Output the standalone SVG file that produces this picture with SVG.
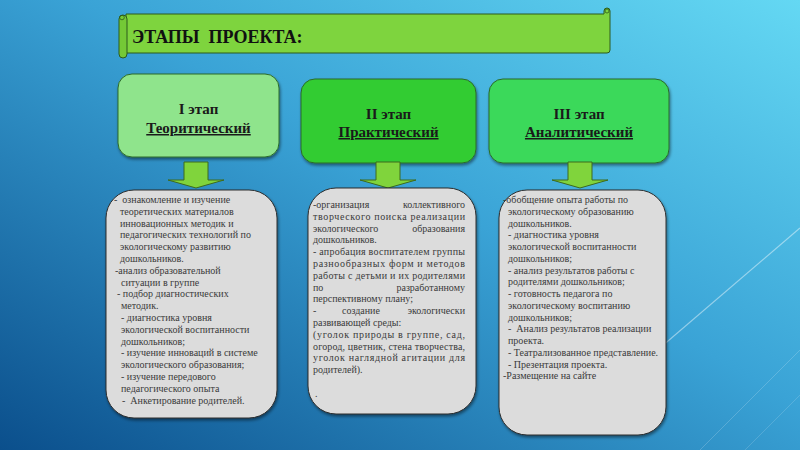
<svg xmlns="http://www.w3.org/2000/svg" width="800" height="450" viewBox="0 0 800 450">
<defs>
<linearGradient id="bg" x1="1" y1="0" x2="0" y2="1">
<stop offset="0" stop-color="#64d8f3"/>
<stop offset="0.45" stop-color="#3aa3d6"/>
<stop offset="1" stop-color="#0b4f8c"/>
</linearGradient>
<filter id="sh" x="-10%" y="-10%" width="120%" height="120%">
<feDropShadow dx="1" dy="2" stdDeviation="1.5" flood-color="#000" flood-opacity="0.45"/>
</filter>
</defs>
<style>
.hdr{stroke:#2c6a2c;stroke-width:1;filter:url(#sh)}
.ht{font-family:"Liberation Serif",serif;font-weight:bold;font-size:15px;fill:#1a1a1a;text-anchor:middle}
.u{text-decoration:underline}
.box{fill:#dcdcdc;stroke:#2e2e2e;stroke-width:1;filter:url(#sh)}
.t{font-family:"Liberation Serif",serif;font-size:10px;fill:#3a3a3a;white-space:pre}
.e{text-anchor:end}
.arr{fill:#80d43c;stroke:#3d6a1c;stroke-width:1}
.deco{stroke:#ffffff;fill:none}
</style>
<rect x="0" y="0" width="800" height="450" fill="url(#bg)"/>
<g id="decor">
<line class="deco" x1="640" y1="365" x2="800" y2="228" stroke-opacity="0.45" stroke-width="1.2"/>
<line class="deco" x1="700" y1="450" x2="800" y2="350" stroke-opacity="0.18"/>
<line class="deco" x1="745" y1="450" x2="800" y2="395" stroke-opacity="0.15"/>
</g>
<g id="banner">
<path d="M126,14 H604 V11 a3,3 0 0 1 6,0 V50 a3,3 0 0 1 -3,3 H126 Z" fill="#7ed43e" stroke="#2d5a1c" stroke-width="1"/>
<rect x="119" y="15" width="8" height="43" rx="4" fill="#74c936" stroke="#2d5a1c" stroke-width="1"/>
<circle cx="122" cy="17.5" r="2.3" fill="none" stroke="#2d5a1c" stroke-width="0.8"/>
<circle cx="607" cy="11" r="2" fill="none" stroke="#2d5a1c" stroke-width="0.8"/>
<text x="132" y="43" font-family="Liberation Serif, serif" font-weight="bold" font-size="18" fill="#111" style="white-space:pre">ЭТАПЫ  ПРОЕКТА:</text>
</g>
<g id="stage1">
<rect class="hdr" x="118" y="74" width="161" height="83" rx="14" fill="#8fe48c"/>
<text class="ht" x="198.5" y="114">I этап</text>
<text class="ht u" x="198.5" y="133">Теоритический</text>
</g>
<g id="stage2">
<rect class="hdr" x="301" y="79" width="175" height="84" rx="14" fill="#33cc33"/>
<text class="ht" x="388.5" y="119">II этап</text>
<text class="ht u" x="388.5" y="137">Практический</text>
</g>
<g id="stage3">
<rect class="hdr" x="489" y="79" width="180" height="84" rx="14" fill="#3bd95a"/>
<text class="ht" x="579" y="119">III этап</text>
<text class="ht u" x="579" y="137">Аналитический</text>
</g>
<g id="connectors">
<polygon class="arr" points="184,162 208,162 208,180 224,180 196,188 168,180 184,180"/>
<polygon class="arr" points="376,162 400,162 400,180 416,180 388,188 360,180 376,180"/>
<polygon class="arr" points="568,162 592,162 592,180 608,180 580,188 552,180 568,180"/>
</g>
<g id="box1">
<rect class="box" x="106" y="190" width="171" height="228" rx="28"/>
<text class="t" x="114" y="203">-  ознакомление и изучение</text>
<text class="t" x="120" y="214.8">теоретических материалов</text>
<text class="t" x="120" y="226.6">инновационных методик и</text>
<text class="t" x="120" y="238.4">педагогических технологий по</text>
<text class="t" x="120" y="250.2">экологическому развитию</text>
<text class="t" x="120" y="262">дошкольников.</text>
<text class="t" x="115" y="273.8">-анализ образовательной</text>
<text class="t" x="121" y="285.6">ситуации в группе</text>
<text class="t" x="117" y="297.4">- подбор диагностических</text>
<text class="t" x="121" y="309.2">методик.</text>
<text class="t" x="121" y="321">- диагностика уровня</text>
<text class="t" x="121" y="332.8">экологической воспитанности</text>
<text class="t" x="121" y="344.6">дошкольников;</text>
<text class="t" x="121" y="356.4">- изучение инноваций в системе</text>
<text class="t" x="121" y="368.2">экологического образования;</text>
<text class="t" x="121" y="380">- изучение передового</text>
<text class="t" x="121" y="391.8">педагогического опыта</text>
<text class="t" x="122" y="403.6">-  Анкетирование родителей.</text>
</g>
<g id="box2">
<rect class="box" x="308" y="188" width="168" height="226" rx="28"/>
<text class="t" x="313" y="208">-организация</text>
<text class="t e" x="465" y="208">коллективного</text>
<text class="t" x="313" y="219.8" textLength="152" lengthAdjust="spacing">творческого поиска реализации</text>
<text class="t" x="313" y="231.6">экологического</text>
<text class="t e" x="465" y="231.6">образования</text>
<text class="t" x="313" y="243.4">дошкольников.</text>
<text class="t" x="313" y="255.2" textLength="152" lengthAdjust="spacing">- апробация воспитателем группы</text>
<text class="t" x="313" y="267" textLength="152" lengthAdjust="spacing">разнообразных форм и методов</text>
<text class="t" x="313" y="278.8" textLength="152" lengthAdjust="spacing">работы с детьми и их родителями</text>
<text class="t" x="313" y="290.6">по</text>
<text class="t e" x="465" y="290.6">разработанному</text>
<text class="t" x="313" y="302.4">перспективному плану;</text>
<text class="t" x="313" y="314.2">-</text>
<text class="t" x="342" y="314.2">создание</text>
<text class="t e" x="465" y="314.2">экологически</text>
<text class="t" x="313" y="326">развивающей среды:</text>
<text class="t" x="313" y="337.8" textLength="152" lengthAdjust="spacing">(уголок природы в группе, сад,</text>
<text class="t" x="313" y="349.6" textLength="152" lengthAdjust="spacing">огород, цветник, стена творчества,</text>
<text class="t" x="313" y="361.4" textLength="152" lengthAdjust="spacing">уголок наглядной агитации для</text>
<text class="t" x="313" y="373.2">родителей).</text>
<text class="t" x="315" y="397">.</text>
</g>
<g id="box3">
<rect class="box" x="499" y="190" width="167" height="245" rx="28"/>
<text class="t" x="503" y="203">-обобщение опыта работы по</text>
<text class="t" x="508" y="214.75">экологическому образованию</text>
<text class="t" x="508" y="226.5">дошкольников.</text>
<text class="t" x="508" y="238.25">- диагностика уровня</text>
<text class="t" x="508" y="250">экологической воспитанности</text>
<text class="t" x="508" y="261.75">дошкольников;</text>
<text class="t" x="508" y="273.5">- анализ результатов работы с</text>
<text class="t" x="508" y="285.25">родителями дошкольников;</text>
<text class="t" x="508" y="297">- готовность педагога по</text>
<text class="t" x="508" y="308.75">экологическому воспитанию</text>
<text class="t" x="508" y="320.5">дошкольников;</text>
<text class="t" x="508" y="332.25">-  Анализ результатов реализации</text>
<text class="t" x="508" y="344">проекта.</text>
<text class="t" x="508" y="355.75">- Театрализованное представление.</text>
<text class="t" x="508" y="367.5">- Презентация проекта.</text>
<text class="t" x="503" y="379.25">-Размещение на сайте</text>
</g>
</svg>
